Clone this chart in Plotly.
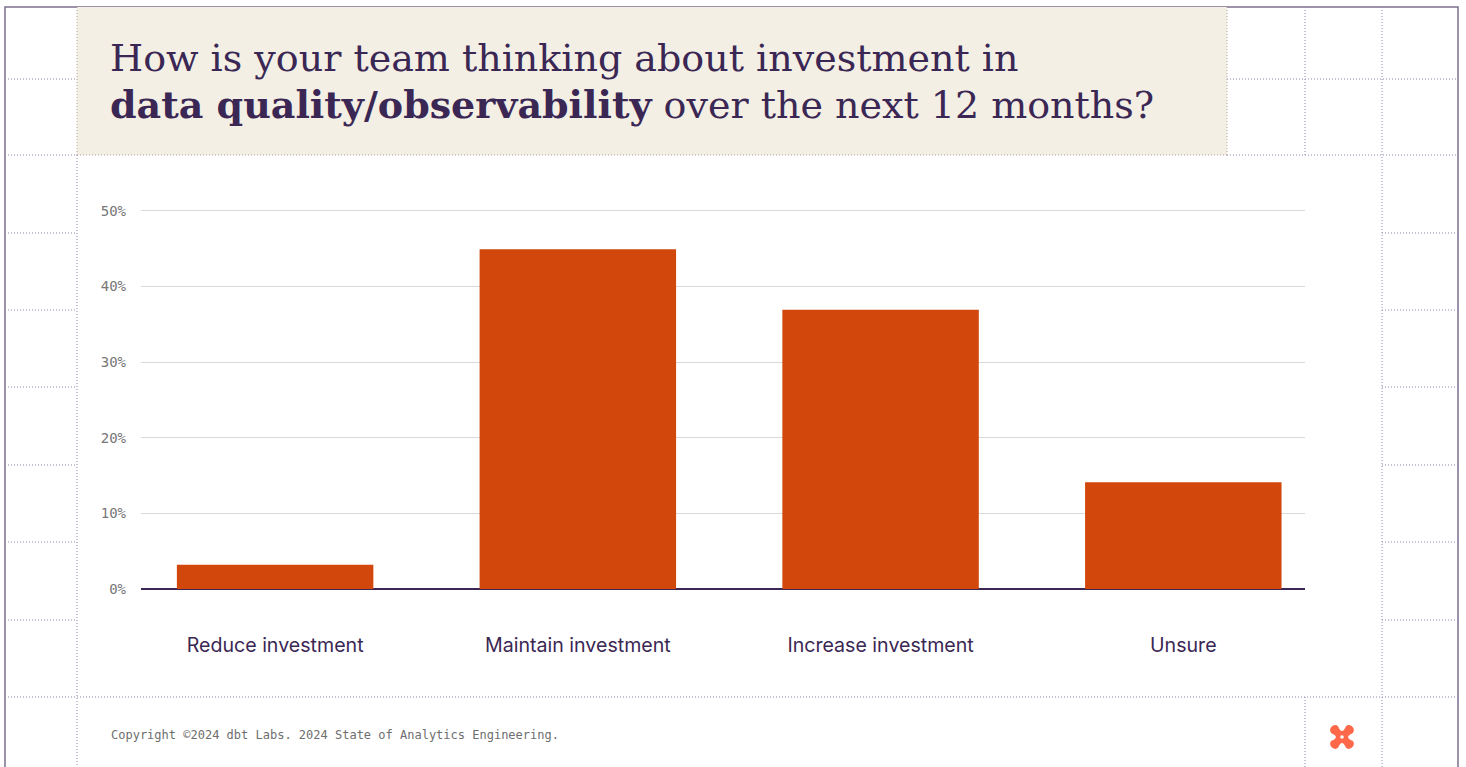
import math
import plotly.graph_objects as go

# Survey responses (share of respondents, %)
categories = ["Reduce investment", "Maintain investment", "Increase investment", "Unsure"]
shares = [3.2, 44.9, 36.9, 14.1]
y_ticks = [0, 10, 20, 30, 40, 50]
y_tick_labels = ["0%", "10%", "20%", "30%", "40%", "50%"]

title_line1 = "How is your team thinking about investment in"
title_line2 = "<b>data quality/observability</b> over the next 12 months?"
footer_text = "Copyright ©2024 dbt Labs. 2024 State of Analytics Engineering."

W, H = 1466, 767
ML, MR, MT, MB = 141, 161, 200, 178
PW, PH = W - ML - MR, H - MT - MB

INK = "#3b2754"
BAR = "#d1470c"
DOT = "#8f88ad"
DOT_BEIGE = "#aea696"


def px(x):
    return (x - ML) / PW


def py(y):
    return 1 - (y - MT) / PH


fig = go.Figure(
    go.Bar(
        x=categories,
        y=shares,
        marker=dict(color=BAR, line=dict(width=0)),
        hoverinfo="skip",
    )
)

shapes = []

# page frame and title panel
shapes.append(dict(type="rect", xref="paper", yref="paper", layer="below",
                   x0=px(5), x1=px(1458), y0=py(7), y1=py(800),
                   line=dict(color="#7c6f8e", width=1.5), fillcolor="white"))
shapes.append(dict(type="rect", xref="paper", yref="paper", layer="below",
                   x0=px(77), x1=px(1227), y0=py(7), y1=py(155),
                   line=dict(width=0), fillcolor="#f3efe4"))


def hline(y, x0, x1, color=DOT):
    shapes.append(dict(type="line", xref="paper", yref="paper", layer="below",
                       x0=px(x0), x1=px(x1), y0=py(y), y1=py(y),
                       line=dict(color=color, width=1, dash="1px,2px")))


def vline(x, y0, y1, color=DOT):
    shapes.append(dict(type="line", xref="paper", yref="paper", layer="below",
                       x0=px(x), x1=px(x), y0=py(y0), y1=py(y1),
                       line=dict(color=color, width=1, dash="1px,2px")))


# dotted layout grid
hline(155, 5, 77)
hline(155, 77, 1227, DOT_BEIGE)
hline(155, 1227, 1458)
hline(697, 5, 1458)
hline(79, 1227, 1458)
for gy in [79, 233, 310, 387, 465, 542, 620]:
    hline(gy, 5, 77)
    if gy != 79:
        hline(gy, 1382, 1458)
vline(77, 7, 155, DOT_BEIGE)
vline(77, 155, 770)
vline(1227, 7, 155, DOT_BEIGE)
vline(1305, 7, 155)
vline(1305, 697, 770)
vline(1382, 7, 770)

# brand mark: four rounded arms with concave waists
R, w, k, c = 10.2, 4.8, 5.8, 1.6
path = ""
for i in range(4):
    th = math.radians(45 + 90 * i)
    ux, uy = math.cos(th), math.sin(th)
    qx, qy = -math.sin(th), math.cos(th)
    ax, ay = R * ux - w * qx, R * uy - w * qy
    bx, by = R * ux + w * qx, R * uy + w * qy
    if i == 0:
        path += f"M{ax:.2f},{ay:.2f} "
    path += (f"C{ax + k * ux:.2f},{ay + k * uy:.2f} {bx + k * ux:.2f},{by + k * uy:.2f} "
             f"{bx:.2f},{by:.2f} ")
    th2 = math.radians(45 + 90 * (i + 1))
    ux2, uy2 = math.cos(th2), math.sin(th2)
    qx2, qy2 = -math.sin(th2), math.cos(th2)
    nx, ny = R * ux2 - w * qx2, R * uy2 - w * qy2
    mid = math.radians(90 + 90 * i)
    path += f"Q{c * math.cos(mid):.2f},{c * math.sin(mid):.2f} {nx:.2f},{ny:.2f} "
path += "Z"
shapes.append(dict(type="path", xref="paper", yref="paper",
                   xsizemode="pixel", ysizemode="pixel",
                   xanchor=px(1342), yanchor=py(737),
                   path=path, fillcolor="#ff694a", line=dict(width=0)))
shapes.append(dict(type="circle", xref="paper", yref="paper",
                   xsizemode="pixel", ysizemode="pixel",
                   xanchor=px(1342), yanchor=py(737),
                   x0=-1.8, x1=1.8, y0=-1.8, y1=1.8,
                   fillcolor="white", line=dict(width=0)))

annotations = [
    dict(text=title_line1, xref="paper", yref="paper", x=px(108), y=py(58),
         xanchor="left", yanchor="middle", showarrow=False,
         font=dict(family="DejaVu Serif", size=38, color=INK)),
    dict(text=title_line2, xref="paper", yref="paper", x=px(108), y=py(105),
         xanchor="left", yanchor="middle", showarrow=False,
         font=dict(family="DejaVu Serif", size=38, color=INK)),
    dict(text=footer_text, xref="paper", yref="paper", x=px(109), y=py(735),
         xanchor="left", yanchor="middle", showarrow=False,
         font=dict(family="DejaVu Sans Mono", size=12, color="#6e6e6e")),
]

fig.update_layout(
    width=W,
    height=H,
    margin=dict(l=ML, r=MR, t=MT, b=MB, pad=0),
    paper_bgcolor="white",
    plot_bgcolor="rgba(0,0,0,0)",
    showlegend=False,
    bargap=0.351,
    shapes=shapes,
    annotations=annotations,
    xaxis=dict(
        type="category",
        range=[-0.443, 3.402],
        showgrid=False,
        zeroline=False,
        showline=False,
        ticks="",
        ticklabelstandoff=42,
        tickfont=dict(family="Inter", size=19.6, color=INK),
        fixedrange=True,
    ),
    yaxis=dict(
        range=[0, 51.41],
        tickvals=y_ticks,
        ticktext=y_tick_labels,
        showgrid=True,
        gridcolor="#d9d9d9",
        gridwidth=1,
        zeroline=True,
        zerolinecolor=INK,
        zerolinewidth=1.5,
        showline=False,
        ticks="",
        ticklabelstandoff=14,
        tickfont=dict(family="DejaVu Sans Mono", size=14, color="#777777"),
        fixedrange=True,
    ),
)

fig.write_html("out.html")
